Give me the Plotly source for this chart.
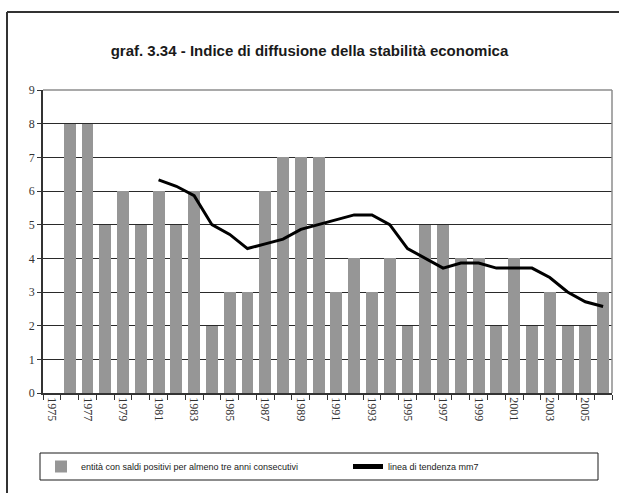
import plotly.graph_objects as go

# dati
anni = list(range(1975, 2007))
entita = [None, 8, 8, 5, 6, 5, 6, 5, 6, 2, 3, 3, 6, 7, 7, 7,
          3, 4, 3, 4, 2, 5, 5, 4, 4, 2, 4, 2, 3, 2, 2, 3]

anni_mm7 = list(range(1981, 2007))
tendenza_mm7 = [6.33, 6.14, 5.86, 5.0, 4.71, 4.29, 4.43, 4.57, 4.86, 5.0,
                5.14, 5.29, 5.29, 5.0, 4.29, 4.0, 3.71, 3.86, 3.86, 3.71,
                3.71, 3.71, 3.43, 3.0, 2.71, 2.57]

anni_etichetta = list(range(1975, 2006, 2))

SANS = "Liberation Sans, Arial, sans-serif"
SERIF = "Liberation Serif, Times New Roman, serif"

W, H = 619, 493
ML, MR, MT, MB = 43, 7, 90, 100
PW, PH = W - ML - MR, H - MT - MB


def px_x(p):
    # pixel orizzontale -> coordinata paper
    return (p - ML) / PW


def px_y(p):
    # pixel verticale -> coordinata paper
    return (H - MB - p) / PH


fig = go.Figure()

fig.add_trace(
    go.Bar(
        x=anni,
        y=entita,
        width=0.67,
        marker=dict(color="#969696", line=dict(width=0)),
        name="entità con saldi positivi per almeno tre anni consecutivi",
    )
)

fig.add_trace(
    go.Scatter(
        x=anni_mm7,
        y=tendenza_mm7,
        mode="lines",
        line=dict(color="#000000", width=3),
        name="linea di tendenza mm7",
    )
)

# cornice esterna (tagliata a destra e in basso come nell'originale)
fig.add_shape(type="line", xref="paper", yref="paper",
              x0=px_x(7), x1=px_x(640), y0=px_y(12), y1=px_y(12),
              line=dict(color="#333333", width=2))
fig.add_shape(type="line", xref="paper", yref="paper",
              x0=px_x(7), x1=px_x(7), y0=px_y(520), y1=px_y(12),
              line=dict(color="#333333", width=2))
# bordo area del grafico (alto e destra, grigio)
fig.add_shape(type="line", xref="paper", yref="paper",
              x0=0, x1=1, y0=1, y1=1,
              line=dict(color="#8c8c8c", width=1.5))
fig.add_shape(type="line", xref="paper", yref="paper",
              x0=1, x1=1, y0=0, y1=1,
              line=dict(color="#8c8c8c", width=1.5))
# riquadro della legenda
fig.add_shape(type="rect", xref="paper", yref="paper",
              x0=px_x(40), x1=px_x(598), y0=px_y(480), y1=px_y(453),
              line=dict(color="#1a1a1a", width=1))

fig.update_layout(
    width=W,
    height=H,
    margin=dict(l=ML, r=MR, t=MT, b=MB, autoexpand=False),
    paper_bgcolor="white",
    plot_bgcolor="white",
    bargap=0,
    title=dict(
        text="<b>graf. 3.34 - Indice di diffusione della stabilità economica</b>",
        x=0.5,
        xanchor="center",
        yref="container",
        y=1 - 51 / H,
        yanchor="middle",
        font=dict(family=SANS, size=15, color="#1a1a1a"),
    ),
    showlegend=True,
    legend=dict(
        orientation="h",
        x=px_x(41),
        xanchor="left",
        y=px_y(466.5),
        yanchor="middle",
        borderwidth=0,
        bgcolor="rgba(0,0,0,0)",
        font=dict(family=SANS, size=9, color="#1a1a1a"),
        entrywidth=262,
        itemsizing="constant",
    ),
)

fig.update_xaxes(
    range=[1974.5, 2006.5],
    tickmode="array",
    tickvals=anni_etichetta,
    ticktext=[str(a) for a in anni_etichetta],
    tickangle=90,
    ticks="",
    tickfont=dict(family=SERIF, size=12, color="#333333"),
    showgrid=False,
    zeroline=False,
    showline=True,
    linecolor="#333333",
    linewidth=1.5,
    minor=dict(ticks="outside", ticklen=5, tickcolor="#333333",
               tickmode="linear", tick0=1974.5, dtick=1, showgrid=False),
)

fig.update_yaxes(
    range=[0, 9],
    tickmode="linear",
    tick0=0,
    dtick=1,
    ticks="outside",
    ticklen=4,
    tickcolor="#333333",
    tickfont=dict(family=SERIF, size=12, color="#333333"),
    showgrid=True,
    gridcolor="#2a2a2a",
    gridwidth=1,
    zeroline=False,
    showline=True,
    linecolor="#333333",
    linewidth=1.5,
)

# niente margine di pagina, il grafico parte dall'angolo in alto a sinistra
fig.write_html(
    "out.html",
    config={"displayModeBar": False},
    post_script="document.body.style.margin='0';",
)
